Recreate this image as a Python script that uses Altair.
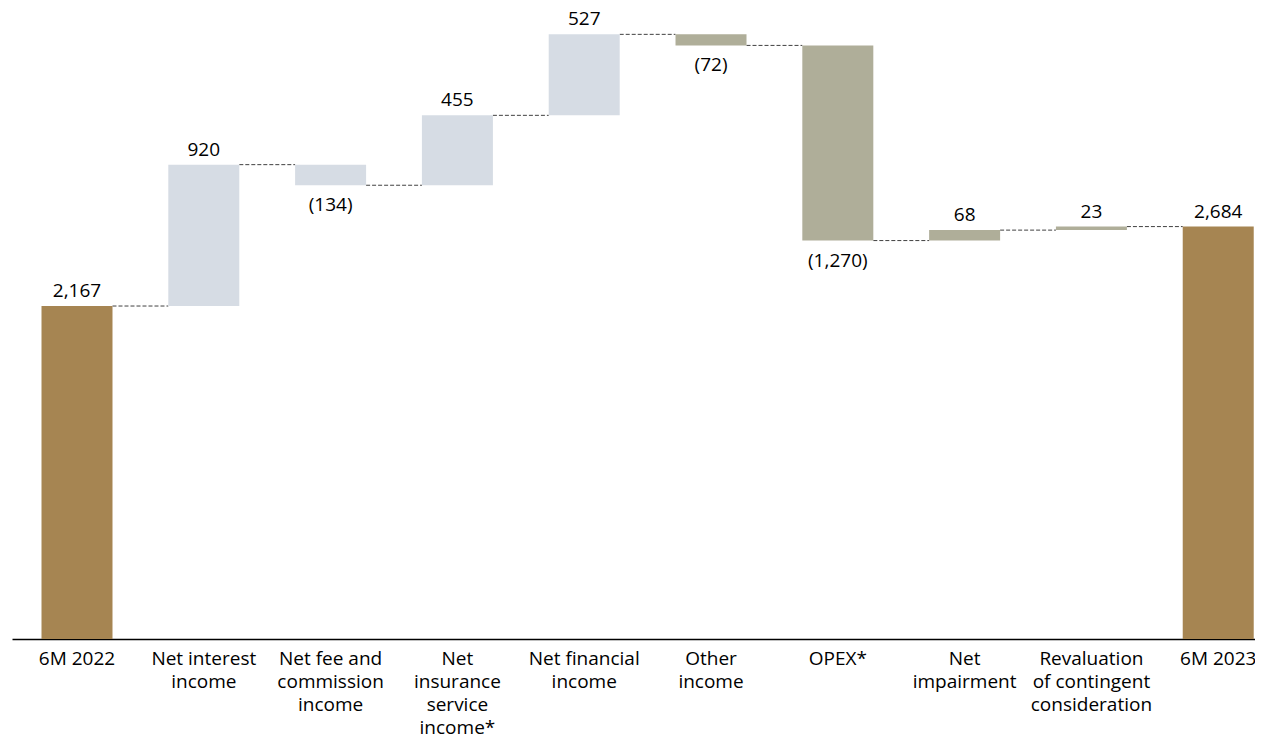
import altair as alt
import pandas as pd

categories = ["6M 2022", "Net interest|income", "Net fee and|commission|income",
              "Net|insurance|service|income*", "Net financial|income", "Other|income",
              "OPEX*", "Net|impairment", "Revaluation|of contingent|consideration", "6M 2023"]
values = [2167, 920, -134, 455, 527, -72, -1270, 68, 23, 2684]
kinds = ["total", "income", "income", "income", "income", "other", "other", "other", "other", "total"]

colors = {"total": "#A68552", "income": "#D6DCE4", "other": "#AFAE99"}

rows = []
level = 0
for i, (c, v, k) in enumerate(zip(categories, values, kinds)):
    if k == "total":
        start, end = 0, v
        level = v
    else:
        start, end = level, level + v
        level = end
    label = f"{v:,}" if v >= 0 else f"({abs(v):,})"
    rows.append({"idx": i, "cat": c, "y0": start, "y1": end, "hi": max(start, end),
                 "lo": min(start, end), "label": label, "neg": bool(v < 0),
                 "col": colors[k], "z": 0})
df = pd.DataFrame(rows)
pos_df = df[~df["neg"]].reset_index(drop=True)
neg_df = df[df["neg"]].reset_index(drop=True)

conn = []
for i in range(len(rows) - 1):
    conn.append({"idx": i, "nidx": i + 1, "lvl": rows[i]["y1"]})
cdf = pd.DataFrame(conn)

FONT = "Open Sans"
FS = 19
BAR = 71

xscale = alt.Scale(domain=[-0.5126, 9.290], nice=False, zero=False, padding=0)
yscale = alt.Scale(domain=[0, 4100], nice=False, padding=0)

xaxis = alt.Axis(labels=False, ticks=False, grid=False, title=None,
                 domainColor="#000000", domainWidth=1.6)

connectors = alt.Chart(cdf).mark_rule(
    color="#404040", strokeDash=[4, 2], strokeWidth=1,
    xOffset=BAR / 2, x2Offset=-BAR / 2
).encode(
    x=alt.X("idx:Q", scale=xscale, axis=xaxis),
    x2="nidx:Q",
    y=alt.Y("lvl:Q", scale=yscale, axis=None),
)

bars = alt.Chart(df).mark_bar(size=BAR).encode(
    x=alt.X("idx:Q", scale=xscale),
    y=alt.Y("y0:Q", scale=yscale),
    y2="y1:Q",
    color=alt.Color("col:N", scale=None),
)

pos_labels = alt.Chart(pos_df).mark_text(
    font=FONT, fontSize=FS, color="#000000", baseline="alphabetic", dy=-9
).encode(
    x=alt.X("idx:Q", scale=xscale),
    y=alt.Y("hi:Q", scale=yscale),
    text="label:N",
)

neg_labels = alt.Chart(neg_df).mark_text(
    font=FONT, fontSize=FS, color="#000000", baseline="alphabetic", dy=26
).encode(
    x=alt.X("idx:Q", scale=xscale),
    y=alt.Y("lo:Q", scale=yscale),
    text="label:N",
)

cat_labels = alt.Chart(df).mark_text(
    font=FONT, fontSize=FS, color="#000000", baseline="alphabetic", dy=26,
    lineBreak="|", lineHeight=23
).encode(
    x=alt.X("idx:Q", scale=xscale),
    y=alt.Y("z:Q", scale=yscale),
    text="cat:N",
)

chart = alt.layer(connectors, bars, pos_labels, neg_labels, cat_labels).properties(
    width=1243, height=630,
    autosize=alt.AutoSizeParams(type="none"),
    padding={"left": 4, "top": 1, "right": 0, "bottom": 96},
).configure_view(strokeWidth=0)

chart.save("out.html", embed_options={"renderer": "svg", "actions": False})
